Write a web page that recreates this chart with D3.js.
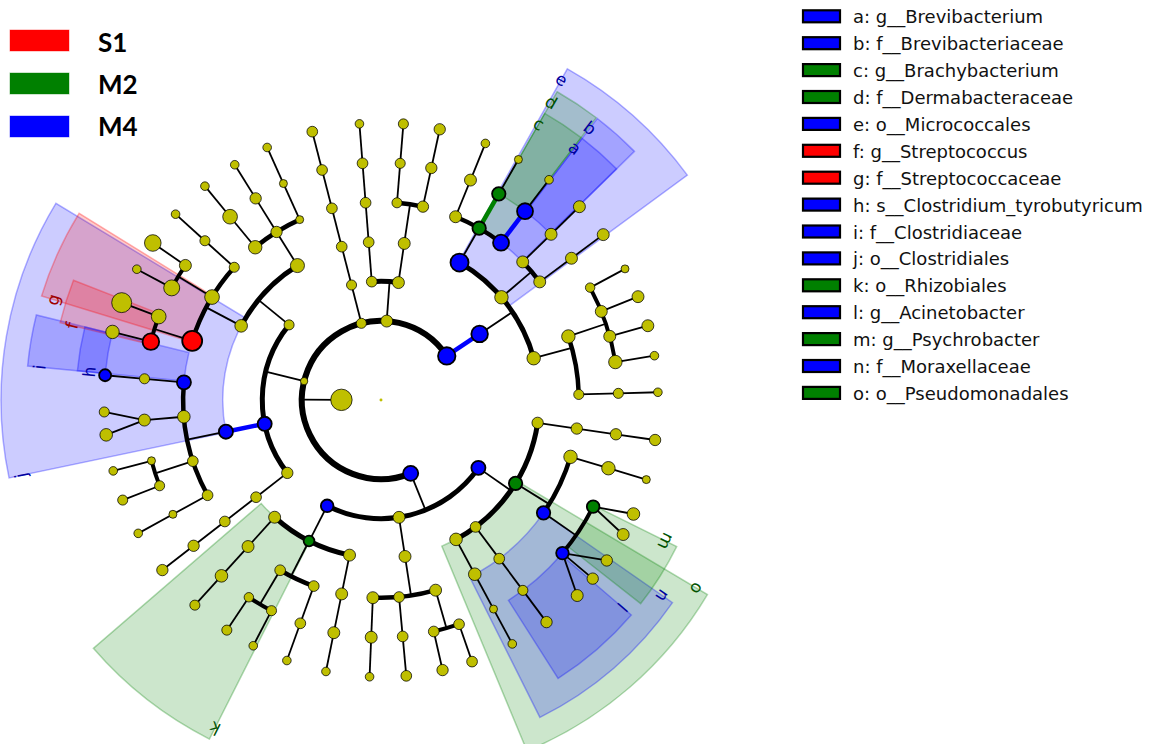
<!DOCTYPE html>
<html>
<head>
<meta charset="utf-8">
<script src="https://cdn.jsdelivr.net/npm/d3@7"></script>
<style>
  body { margin: 0; background: #fff; }
  svg { display: block; }
</style>
</head>
<body>
<div id="chart"></div>
<script>
// groups compared by LEfSe
const groups = ["S1", "M2", "M4"];
const groupColors = { S1: "#ff0000", M2: "#008000", M4: "#0000ff" };

// taxonomy: [clade, parent, log abundance], children listed clockwise
const clades = [
  ["root", null, 1.4],
  ["k__Bacteria", "root", 10.2],
  ["p__Proteobacteria", "k__Bacteria", 7.2],
  ["c__Gammaproteobacteria", "p__Proteobacteria", 6.7],
  ["u01", "c__Gammaproteobacteria", 5.4], ["u02", "u01", 5.4], ["u03", "u02", 5.4], ["u04", "u03", 5.4],
  ["o__Pseudomonadales", "c__Gammaproteobacteria", 6.4],
  ["u05", "o__Pseudomonadales", 6.4], ["u06", "u05", 6.4], ["u07", "u06", 3.8],
  ["f__Moraxellaceae", "o__Pseudomonadales", 6.4],
  ["g__Psychrobacter", "f__Moraxellaceae", 6.0], ["u08", "g__Psychrobacter", 6.0], ["u09", "g__Psychrobacter", 5.7],
  ["g__Acinetobacter", "f__Moraxellaceae", 6.0], ["u10", "g__Acinetobacter", 5.4], ["u11", "g__Acinetobacter", 5.4], ["u12", "g__Acinetobacter", 5.7],
  ["u13", "c__Gammaproteobacteria", 5.1], ["u14", "u13", 5.1], ["u15", "u14", 4.8], ["u16", "u15", 5.4],
  ["u17", "c__Gammaproteobacteria", 6.0], ["u18", "u17", 6.0], ["u19", "u18", 3.8], ["u20", "u19", 4.1],
  ["u21", "p__Proteobacteria", 5.7],
  ["u22", "u21", 5.7],
  ["u23", "u22", 5.7], ["u24", "u23", 5.1], ["u25", "u24", 5.1], ["u26", "u23", 5.1], ["u27", "u26", 5.4],
  ["u28", "u22", 5.1], ["u29", "u28", 5.1], ["u30", "u29", 5.1],
  ["u31", "u22", 5.7], ["u32", "u31", 5.7], ["u33", "u32", 4.1],
  ["c__Alphaproteobacteria", "p__Proteobacteria", 6.0],
  ["u34", "c__Alphaproteobacteria", 5.7], ["u35", "u34", 5.7], ["u36", "u35", 5.7], ["u37", "u36", 4.1],
  ["o__Rhizobiales", "c__Alphaproteobacteria", 5.1],
  ["u38", "o__Rhizobiales", 5.1], ["u39", "u38", 5.1], ["u40", "u39", 4.1],
  ["u41", "o__Rhizobiales", 5.1], ["u42", "u41", 4.8], ["u43", "u42", 4.1], ["u44", "u41", 4.5], ["u45", "u44", 4.8],
  ["u46", "c__Alphaproteobacteria", 5.7], ["u47", "u46", 5.7], ["u48", "u47", 6.0], ["u49", "u48", 4.8],
  ["p__Firmicutes", "k__Bacteria", 3.5],
  ["u50", "p__Firmicutes", 5.4], ["u51", "u50", 5.1], ["u52", "u51", 5.1], ["u53", "u52", 5.4], ["u54", "u53", 5.4],
  ["c__Clostridia", "p__Firmicutes", 6.7],
  ["o__Clostridiales", "c__Clostridia", 6.7],
  ["u55", "o__Clostridiales", 5.1], ["u56", "u55", 3.8], ["u57", "u56", 4.1],
  ["u58", "o__Clostridiales", 5.1], ["u59", "u58", 4.8], ["u60", "u59", 4.8], ["u61", "u58", 3.8], ["u62", "u61", 4.1],
  ["u63", "o__Clostridiales", 6.0], ["u64", "u63", 5.7], ["u65", "u64", 6.0], ["u66", "u64", 4.8],
  ["f__Clostridiaceae", "o__Clostridiales", 6.7], ["g__Clostridium", "f__Clostridiaceae", 4.8],
  ["s__Clostridium_tyrobutyricum", "g__Clostridium", 5.7],
  ["c__Bacilli", "p__Firmicutes", 4.8],
  ["o__Lactobacillales", "c__Bacilli", 6.0],
  ["f__Streptococcaceae", "o__Lactobacillales", 9.5],
  ["g__Streptococcus", "f__Streptococcaceae", 7.9], ["u67", "g__Streptococcus", 6.4],
  ["u68", "f__Streptococcaceae", 7.0], ["u69", "u68", 9.5],
  ["u70", "o__Lactobacillales", 7.0], ["u71", "u70", 7.6], ["u72", "u71", 4.1], ["u73", "u70", 5.7], ["u74", "u73", 7.9],
  ["u75", "o__Lactobacillales", 4.8], ["u76", "u75", 4.8], ["u77", "u76", 4.1],
  ["u78", "c__Bacilli", 6.7],
  ["u79", "u78", 6.4], ["u80", "u79", 7.0], ["u81", "u80", 4.1],
  ["u82", "u78", 5.4], ["u83", "u82", 5.4], ["u84", "u83", 4.1],
  ["u85", "u78", 3.8], ["u86", "u85", 3.8], ["u87", "u86", 4.1],
  ["u88", "k__Bacteria", 4.8], ["u89", "u88", 4.8], ["u90", "u89", 5.1], ["u91", "u90", 5.1], ["u92", "u91", 5.1], ["u93", "u92", 5.1],
  ["u94", "k__Bacteria", 5.7],
  ["u95", "u94", 5.1], ["u96", "u95", 5.1], ["u97", "u96", 5.1], ["u98", "u97", 5.1], ["u99", "u98", 4.1],
  ["u100", "u94", 5.7], ["u101", "u100", 5.7],
  ["u102", "u101", 4.8], ["u103", "u102", 4.8], ["u104", "u103", 4.8],
  ["u105", "u101", 5.4], ["u106", "u105", 5.4], ["u107", "u106", 5.4],
  ["p__Actinobacteria", "k__Bacteria", 8.3],
  ["c__Actinobacteria", "p__Actinobacteria", 7.9],
  ["o__Micrococcales", "c__Actinobacteria", 8.6],
  ["u108", "o__Micrococcales", 5.7], ["u109", "u108", 5.7], ["u110", "u109", 4.1],
  ["f__Dermabacteraceae", "o__Micrococcales", 6.4], ["g__Brachybacterium", "f__Dermabacteraceae", 6.4], ["u111", "g__Brachybacterium", 3.8],
  ["f__Brevibacteriaceae", "o__Micrococcales", 7.6], ["g__Brevibacterium", "f__Brevibacteriaceae", 7.6], ["u112", "g__Brevibacterium", 4.1],
  ["u113", "c__Actinobacteria", 6.4],
  ["u114", "u113", 5.7], ["u115", "u114", 5.7], ["u116", "u115", 5.7],
  ["u117", "u113", 5.7], ["u118", "u117", 5.7], ["u119", "u118", 5.7],
  ["u120", "c__Actinobacteria", 6.4],
  ["u121", "u120", 6.4],
  ["u122", "u121", 4.5], ["u123", "u122", 3.8],
  ["u124", "u121", 5.7], ["u125", "u124", 5.7],
  ["u126", "u121", 5.7], ["u127", "u126", 5.7],
  ["u128", "u121", 6.4], ["u129", "u128", 4.1],
  ["u130", "u120", 4.8], ["u131", "u130", 4.8], ["u132", "u131", 4.1]
];

// LEfSe biomarkers: [clade, enriched group, letter] (no letter = no shaded sector)
const biomarkers = [
  ["g__Brevibacterium", "M4", "a"],
  ["f__Brevibacteriaceae", "M4", "b"],
  ["g__Brachybacterium", "M2", "c"],
  ["f__Dermabacteraceae", "M2", "d"],
  ["o__Micrococcales", "M4", "e"],
  ["g__Streptococcus", "S1", "f"],
  ["f__Streptococcaceae", "S1", "g"],
  ["s__Clostridium_tyrobutyricum", "M4", "h"],
  ["f__Clostridiaceae", "M4", "i"],
  ["o__Clostridiales", "M4", "j"],
  ["o__Rhizobiales", "M2", "k"],
  ["g__Acinetobacter", "M4", "l"],
  ["g__Psychrobacter", "M2", "m"],
  ["f__Moraxellaceae", "M4", "n"],
  ["o__Pseudomonadales", "M2", "o"],
  ["p__Actinobacteria", "M4", ""],
  ["c__Actinobacteria", "M4", ""],
  ["p__Proteobacteria", "M4", ""],
  ["c__Gammaproteobacteria", "M4", ""],
  ["c__Alphaproteobacteria", "M4", ""],
  ["c__Clostridia", "M4", ""]
];

const W = 1150, H = 744, cx = 381, cy = 400;
const yellow = "#bfbf00";
// angular gap between neighbouring leaves, by depth of their common ancestor
const leafGap = [9.9, 9.9, 9.1, 8.4, 7.6, 6.35, 4.75];
const rotation = 3.35;

const svg = d3.select("#chart").append("svg")
  .attr("width", W)
  .attr("height", H);

const root = d3.stratify().id(d => d[0]).parentId(d => d[1])(clades);

function lcaDepth(a, b) {
  const anc = new Set(a.ancestors());
  let n = b;
  while (!anc.has(n)) n = n.parent;
  return n.depth;
}

d3.cluster().size([360, 1]).separation((a, b) => leafGap[lcaDepth(a, b)])(root);

const nodes = root.descendants();
const leaves = root.leaves();
leaves.forEach(l => l.theta = l.x + rotation);
nodes.forEach(n => {
  if (n.children) n.theta = d3.mean(n.leaves(), l => l.theta);
});
leaves.forEach((l, i) => {
  const prev = i === 0 ? leaves[leaves.length - 1].theta - 360 : leaves[i - 1].theta;
  const next = i === leaves.length - 1 ? leaves[0].theta + 360 : leaves[i + 1].theta;
  l.cell = [(prev + l.theta) / 2, (l.theta + next) / 2];
});

const rScale = d3.scaleLinear().domain([0, 7]).range([0, 277]);
const sizeScale = d3.scaleLinear().domain([0, 10]).range([0, 10.5]);
const outerScale = d3.scaleLinear().domain([4, 7]).range([380, 305]);
const arcWidth = { 2: 6, 3: 5, 4: 5, 5: 4.5, 6: 4 };

const groupOf = new Map(biomarkers.map(d => [d[0], d[1]]));
const colorOf = n => groupOf.has(n.id) ? groupColors[groupOf.get(n.id)] : null;

function pt(theta, r) {
  const a = theta * Math.PI / 180;
  return [cx + r * Math.cos(a), cy + r * Math.sin(a)];
}
const rad = deg => deg * Math.PI / 180;

// shaded sectors
const sectorLayer = svg.append("g").attr("transform", `translate(${cx},${cy})`);
const labelLayer = svg.append("g");
const arcGen = d3.arc();
const marked = biomarkers.filter(d => d[2] !== "")
  .map(d => ({ node: nodes.find(n => n.id === d[0]), group: d[1], letter: d[2] }))
  .sort((a, b) => a.node.depth - b.node.depth);

marked.forEach(m => {
  const ls = m.node.leaves();
  const s = ls[0].cell[0], e = ls[ls.length - 1].cell[1];
  const w = e - s;
  m.a0 = s + w / 2;
  m.a1 = e + w / 2;
  const col = groupColors[m.group];
  sectorLayer.append("path")
    .attr("d", arcGen({
      innerRadius: rScale(m.node.depth),
      outerRadius: outerScale(m.node.depth),
      startAngle: rad(m.a0 + 90),
      endAngle: rad(m.a1 + 90)
    }))
    .attr("fill", col)
    .attr("fill-opacity", 0.2)
    .attr("stroke", col)
    .attr("stroke-opacity", 0.3)
    .attr("stroke-width", 1.5);
});

// branches
const lineLayer = svg.append("g").attr("fill", "none").attr("stroke", "#000");
nodes.filter(n => n.children && n.depth > 0).forEach(p => {
  const kids = p.children;
  const [px, py] = pt(p.theta, rScale(p.depth));
  if (kids[0].depth === 7 || kids.length === 1) {
    kids.forEach(k => {
      const [kx, ky] = pt(k.theta, rScale(k.depth));
      const same = kids.length === 1 && colorOf(p) && colorOf(p) === colorOf(k);
      lineLayer.append("line")
        .attr("x1", px).attr("y1", py).attr("x2", kx).attr("y2", ky)
        .attr("stroke", same ? colorOf(k) : "#000")
        .attr("stroke-width", same ? 4.5 : 1.8);
    });
    return;
  }
  const rk = rScale(kids[0].depth);
  const [ex, ey] = pt(p.theta, rk);
  lineLayer.append("line")
    .attr("x1", px).attr("y1", py).attr("x2", ex).attr("y2", ey)
    .attr("stroke-width", 1.8);
  const t0 = d3.min(kids, k => k.theta), t1 = d3.max(kids, k => k.theta);
  const path = d3.path();
  path.arc(cx, cy, rk, rad(t0), rad(t1));
  lineLayer.append("path")
    .attr("d", path.toString())
    .attr("stroke-width", arcWidth[kids[0].depth]);
});

// nodes
svg.append("g").selectAll("circle")
  .data(nodes)
  .join("circle")
  .attr("cx", d => pt(d.theta || 0, rScale(d.depth))[0])
  .attr("cy", d => pt(d.theta || 0, rScale(d.depth))[1])
  .attr("r", d => sizeScale(d.data[2]))
  .attr("fill", d => colorOf(d) || yellow)
  .attr("stroke", d => d.depth === 0 ? "none" : "#000")
  .attr("stroke-opacity", d => colorOf(d) ? 1 : 0.75)
  .attr("stroke-width", d => colorOf(d) ? 1.8 : 1);

// sector letters
marked.forEach(m => {
  const [lx, ly] = pt(m.a0, outerScale(m.node.depth) - 12);
  labelLayer.append("text")
    .attr("transform", `translate(${lx},${ly}) rotate(${m.a0 + 90})`)
    .attr("text-anchor", "middle")
    .attr("dominant-baseline", "central")
    .style("font-family", "DejaVu Sans")
    .style("font-size", "17px")
    .style("fill", d3.color(groupColors[m.group]).darker(1.3))
    .text(m.letter);
});

// group legend (top left)
const gLegend = svg.append("g");
groups.forEach((g, i) => {
  gLegend.append("rect")
    .attr("x", 10).attr("y", 30 + i * 43)
    .attr("width", 59).attr("height", 21)
    .attr("fill", groupColors[g])
    .attr("stroke", groupColors[g])
    .attr("stroke-opacity", 0.4);
  gLegend.append("text")
    .attr("x", 98).attr("y", 52 + i * 42)
    .style("font-family", "Lato, 'Open Sans', sans-serif")
    .style("font-weight", "bold")
    .style("font-size", "26px")
    .style("fill", "#000")
    .text(g);
});

// biomarker legend (right)
const bLegend = svg.append("g");
biomarkers.filter(d => d[2] !== "").forEach((d, i) => {
  const yc = 16.3 + i * 26.9;
  bLegend.append("rect")
    .attr("x", 803).attr("y", yc - 6)
    .attr("width", 37).attr("height", 12)
    .attr("fill", groupColors[d[1]])
    .attr("stroke", "#000")
    .attr("stroke-width", 2.2);
  bLegend.append("text")
    .attr("x", 853).attr("y", yc + 7)
    .style("font-family", "DejaVu Sans")
    .style("font-size", "18px")
    .style("fill", "#111")
    .text(`${d[2]}: ${d[0]}`);
});
</script>
</body>
</html>
